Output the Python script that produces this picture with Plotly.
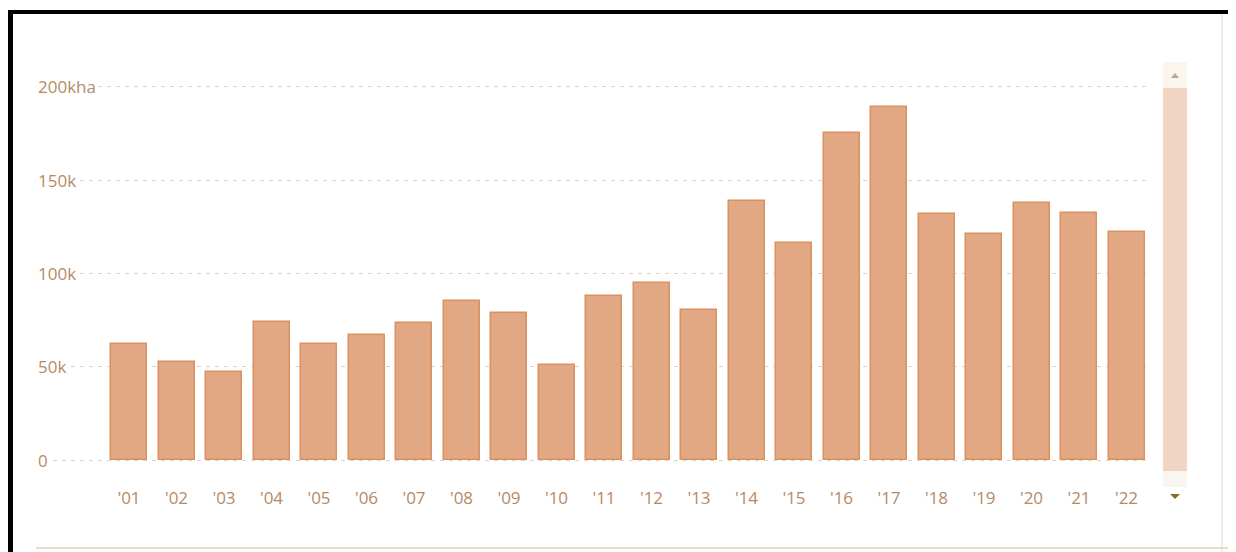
import plotly.graph_objects as go

years = ["'01", "'02", "'03", "'04", "'05", "'06", "'07", "'08", "'09", "'10", "'11",
         "'12", "'13", "'14", "'15", "'16", "'17", "'18", "'19", "'20", "'21", "'22"]
tree_cover_loss_ha = [62100, 52700, 47300, 73800, 62000, 66800, 73600, 85300, 78900, 50900, 88000,
                      94700, 80400, 138700, 116100, 175000, 188900, 131800, 120900, 137500, 132500, 122300]
y_tick_values = [0, 50000, 100000, 150000, 200000]
y_tick_labels = ["0", "50k", "100k", "150k", "200kha"]

OFF = 8                  # page body margin
W, H = 1236 - OFF, 552 - OFF
L, R = 35, 1150          # plot area, page px
T, B = 62, 470
pw, ph = R - L, B - T

def px(x):
    return (x - L) / pw

def py(y):
    return (B - y) / ph

idx = list(range(len(years)))
unit = 47.5              # px per category
x0 = -(129 - L) / unit
x1 = x0 + pw / unit
per_px = 50000 / 93.33   # value per px, zero at y=460
y0 = -(B - 460) * per_px
y1 = y0 + ph * per_px

label_col = "#b68a66"
fig = go.Figure(go.Bar(
    x=idx, y=tree_cover_loss_ha,
    width=36 / unit,
    marker=dict(color="#e1a883", line=dict(color="#d8915f", width=1.5)),
    hoverinfo="skip",
))

annotations = []
for v, t in zip(y_tick_values, y_tick_labels):
    annotations.append(dict(
        x=0, y=v, xref="paper", yref="y", text=t, showarrow=False,
        xanchor="left", yanchor="middle", xshift=0,
        font=dict(family="Open Sans", size=17, color=label_col),
        bgcolor="white", borderpad=2,
    ))

shapes = [
    dict(type="rect", xref="paper", yref="paper", x0=px(1163), x1=px(1187), y0=py(487), y1=py(62),
         fillcolor="#fbf5f0", line=dict(width=0), layer="below"),
    dict(type="rect", xref="paper", yref="paper", x0=px(1163), x1=px(1187), y0=py(471), y1=py(88),
         fillcolor="#efd5c2", line=dict(width=0)),
    dict(type="path", xref="paper", yref="paper",
         path=f"M {px(1171)} {py(78)} L {px(1179)} {py(78)} L {px(1175)} {py(73)} Z",
         fillcolor="#bfa590", line=dict(width=0)),
    dict(type="path", xref="paper", yref="paper",
         path=f"M {px(1170)} {py(494)} L {px(1180)} {py(494)} L {px(1175)} {py(499)} Z",
         fillcolor="#8a6a2c", line=dict(width=0)),
    dict(type="line", xref="paper", yref="paper", x0=px(1222), x1=px(1222), y0=py(14), y1=py(552),
         line=dict(color="#f4ece5", width=2)),
    dict(type="line", xref="paper", yref="paper", x0=px(36), x1=px(1236), y0=py(548), y1=py(548),
         line=dict(color="#eadbc9", width=2)),
    dict(type="line", xref="paper", yref="paper", x0=px(8), x1=px(1236), y0=py(12), y1=py(12),
         line=dict(color="black", width=4)),
    dict(type="line", xref="paper", yref="paper", x0=px(10.5), x1=px(10.5), y0=py(10), y1=py(552),
         line=dict(color="black", width=5)),
]

fig.update_layout(
    width=W, height=H,
    margin=dict(l=L - OFF, r=1236 - R, t=T - OFF, b=552 - B, pad=0),
    paper_bgcolor="white", plot_bgcolor="white",
    showlegend=False,
    bargap=0,
    xaxis=dict(range=[x0, x1], tickmode="array", tickvals=idx, ticktext=years,
               showgrid=False, zeroline=False, showline=False, ticks="",
               ticklabelstandoff=16,
               tickfont=dict(family="Open Sans", size=17, color=label_col), fixedrange=True),
    yaxis=dict(range=[y0, y1], tickmode="array", tickvals=y_tick_values, showticklabels=False,
               showgrid=True, gridcolor="#ddd3ca", gridwidth=1, griddash="4px,5px",
               zeroline=False, showline=False, ticks="", fixedrange=True),
    annotations=annotations,
    shapes=shapes,
)

fig.write_html("out.html")
